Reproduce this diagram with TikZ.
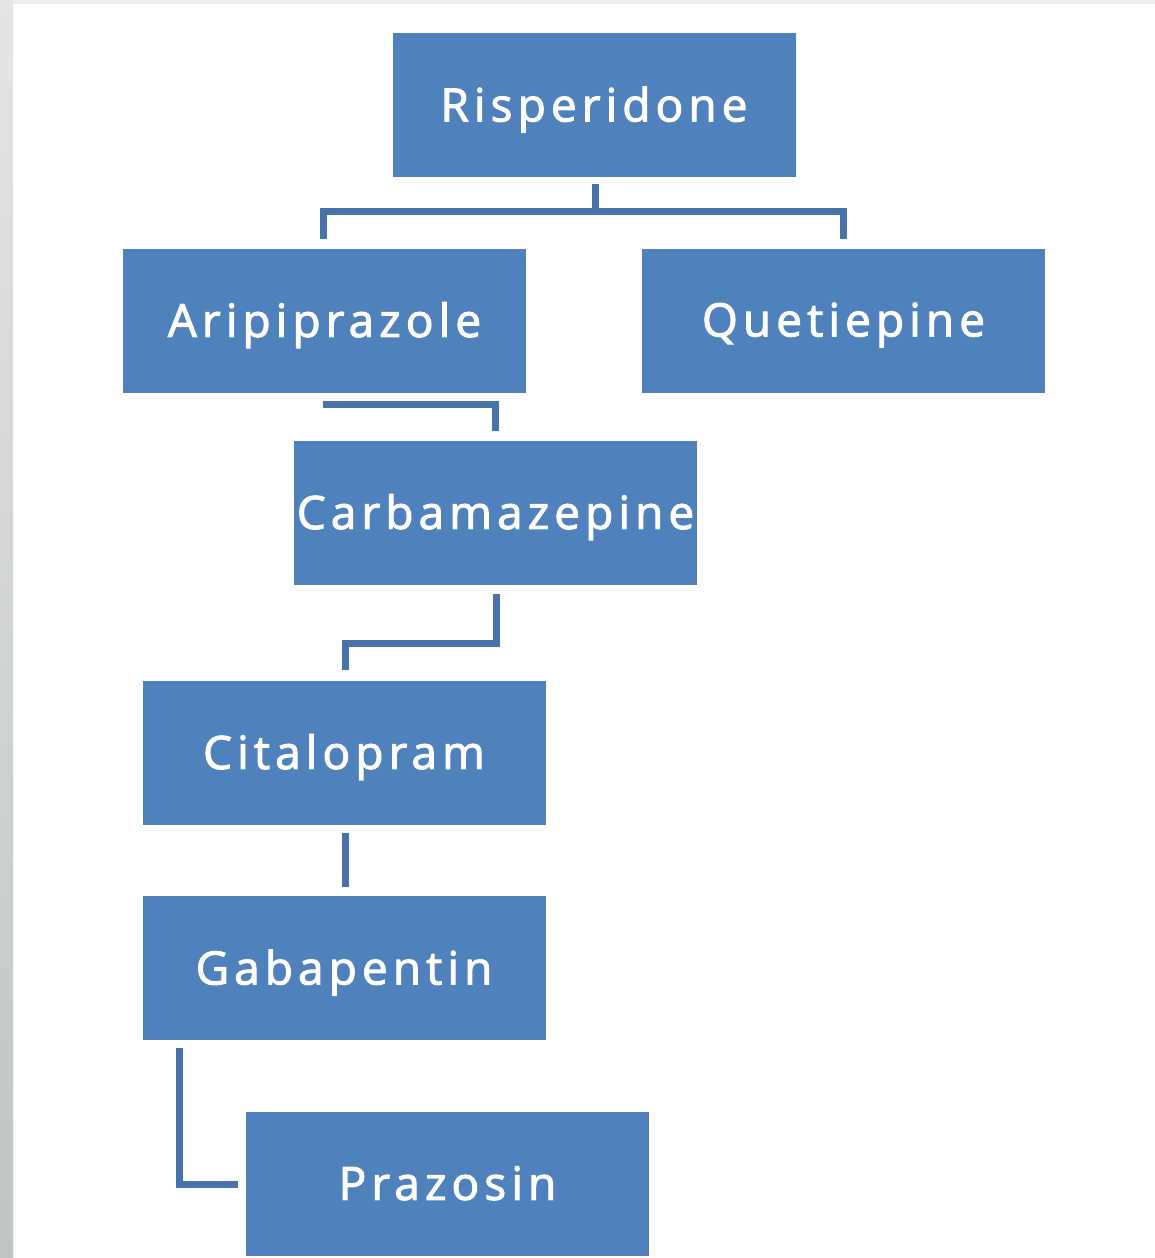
\documentclass[tikz,border=0pt]{standalone}
\usepackage{fontspec}
\setmainfont{Open Sans}
\newfontfamily\boxfont[LetterSpace=11,FakeBold=2.2,Ligatures=NoCommon]{Open Sans}
\definecolor{boxblue}{HTML}{4F81BD}
\definecolor{linkblue}{HTML}{4872AA}
\definecolor{stripTop}{HTML}{E4E5E4}
\definecolor{stripBot}{HTML}{BFC4C4}
\definecolor{topband}{HTML}{EEEEEE}
\begin{document}
\begin{tikzpicture}[x=1pt,y=-1pt,
  drug/.style={fill=boxblue, draw=none, text=white, inner sep=0pt,
    minimum width=403pt, minimum height=144pt, text depth=0pt,
    font=\boxfont\fontsize{46}{52}\selectfont},
  link/.style={draw=linkblue, line width=7pt, line cap=butt, line join=miter}]
  % page background and frame strips
  \useasboundingbox (0,0) rectangle (1155,1258);
  \fill[white] (0,0) rectangle (1155,1258);
  \fill[topband] (0,0) rectangle (1155,4);
  \shade[top color=stripTop, bottom color=stripBot] (0,0) rectangle (13,1258);

  % drug boxes
  \node[drug] (ris) at (594,105) {\raisebox{2pt}{Risperidone}};
  \node[drug] (ari) at (324.5,320.5) {\raisebox{2pt}{Aripiprazole}};
  \node[drug] (que) at (843.5,320.5) {\raisebox{2pt}{Quetiepine}};
  \node[drug] (car) at (495.5,512.5) {\raisebox{2pt}{Carbamazepine}};
  \node[drug] (cit) at (344,752.5) {\raisebox{2pt}{Citalopram}};
  \node[drug] (gab) at (344,968) {\raisebox{2pt}{Gabapentin}};
  \node[drug] (pra) at (447.5,1184) {\raisebox{2pt}{Prazosin}};

  % connector bend points
  \coordinate (rb) at (595,211);
  \coordinate (ab) at (323,211);
  \coordinate (qb) at (843,211);
  \coordinate (cb1) at (496,643);
  \coordinate (cb2) at (345,643);
  \coordinate (gb) at (179,1184);

  % connectors
  \draw[link] ([yshift=-7pt]ris.south -| rb) -- (rb);
  \draw[link] ([yshift=9pt]ari.north -| ab) -- (ab) -- (qb) -- ([yshift=9pt]que.north -| qb);
  \draw[link] ([yshift=-12pt]ari.south -| ab) -- ([yshift=-12pt]ari.south -| car.north) -- ([yshift=9pt]car.north);
  \draw[link] ([yshift=-9pt]car.south -| cb1) -- (cb1) -- (cb2) -- ([yshift=10pt]cit.north -| cb2);
  \draw[link] ([yshift=-8pt]cit.south -| cb2) -- ([yshift=9pt]gab.north -| cb2);
  \draw[link] ([yshift=-8pt]gab.south -| gb) -- (gb) -- ([xshift=-8pt]pra.west);
\end{tikzpicture}
\end{document}
